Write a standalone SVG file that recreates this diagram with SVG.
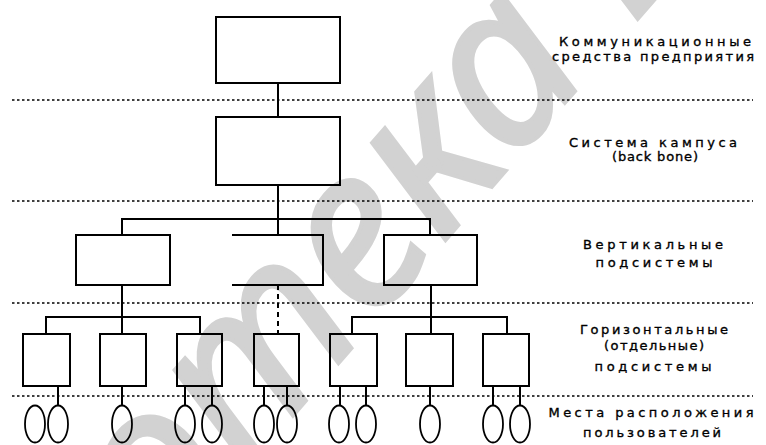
<svg xmlns="http://www.w3.org/2000/svg" width="766" height="445" viewBox="0 0 766 445">
<style>
.wm{font-family:"Noto Sans","DejaVu Sans",sans-serif;font-style:italic;font-weight:400;font-size:222px;fill:#d2d2d2;stroke:#d2d2d2;stroke-width:4}
.box{fill:none;stroke:#000;stroke-width:2}
.ln{fill:none;stroke:#000;stroke-width:2}
.dash{fill:none;stroke:#000;stroke-width:2;stroke-dasharray:5 4}
.sep{fill:none;stroke:#000;stroke-width:1.5;stroke-dasharray:2.5 2.5}
.ov{fill:none;stroke:#000;stroke-width:1.8}
.lbl{font-family:"DejaVu Sans","Liberation Sans",sans-serif;font-size:13px;fill:#000;stroke:#000;stroke-width:0.35;text-anchor:middle}
</style>
<rect width="766" height="445" fill="#fff"/>
<text class="wm" transform="translate(163,565) rotate(-49)">отека Б</text>

<g id="separators">
<line class="sep" x1="12" y1="100" x2="753" y2="100"/>
<line class="sep" x1="12" y1="201" x2="753" y2="201"/>
<line class="sep" x1="12" y1="303" x2="753" y2="303"/>
<line class="sep" x1="12" y1="396" x2="753" y2="396"/>
</g>

<g id="connectors">
<line class="ln" x1="278" y1="83" x2="278" y2="117"/>
<line class="ln" x1="278" y1="185" x2="278" y2="219"/>
<polyline class="ln" points="122,235 122,219 430,219 430,235"/>
<line class="ln" x1="278" y1="219" x2="278" y2="235"/>
<line class="ln" x1="122" y1="285" x2="122" y2="334"/>
<polyline class="ln" points="46,334 46,317 200,317 200,334"/>
<line class="dash" x1="278" y1="285" x2="278" y2="333"/>
<line class="ln" x1="431" y1="285" x2="431" y2="334"/>
<polyline class="ln" points="352,334 352,317 507,317 507,334"/>
<line class="ln" x1="58" y1="386" x2="58" y2="405"/>
<line class="ln" x1="122" y1="386" x2="122" y2="405"/>
<line class="ln" x1="185" y1="386" x2="185" y2="405"/>
<line class="ln" x1="212" y1="386" x2="212" y2="405"/>
<line class="ln" x1="264" y1="386" x2="264" y2="405"/>
<line class="ln" x1="287" y1="386" x2="287" y2="405"/>
<line class="ln" x1="340" y1="386" x2="340" y2="405"/>
<line class="ln" x1="366" y1="386" x2="366" y2="405"/>
<line class="ln" x1="430" y1="386" x2="430" y2="405"/>
<line class="ln" x1="493" y1="386" x2="493" y2="405"/>
<line class="ln" x1="520" y1="386" x2="520" y2="405"/>
</g>

<g id="enterprise"><rect class="box" x="216" y="17" width="124" height="66"/></g>
<g id="campus"><rect class="box" x="216" y="117" width="124" height="68"/></g>
<g id="vertical-1"><rect class="box" x="76" y="235" width="94" height="50"/></g>
<g id="vertical-2"><polyline class="box" points="232,235 323,235 323,285 232,285"/></g>
<g id="vertical-3"><rect class="box" x="384" y="235" width="93" height="50"/></g>

<g id="horizontal-1"><rect class="box" x="23" y="334" width="47" height="52"/></g>
<g id="horizontal-2"><rect class="box" x="100" y="334" width="46" height="52"/></g>
<g id="horizontal-3"><rect class="box" x="177" y="334" width="45" height="52"/></g>
<g id="horizontal-4"><rect class="box" x="254" y="334" width="45" height="52"/></g>
<g id="horizontal-5"><rect class="box" x="330" y="334" width="47" height="52"/></g>
<g id="horizontal-6"><rect class="box" x="406" y="334" width="47" height="52"/></g>
<g id="horizontal-7"><rect class="box" x="483" y="334" width="46" height="52"/></g>

<g id="users">
<ellipse class="ov" cx="35" cy="424" rx="10" ry="18.5"/>
<ellipse class="ov" cx="58" cy="424" rx="10" ry="18.5"/>
<ellipse class="ov" cx="122" cy="424" rx="10" ry="18.5"/>
<ellipse class="ov" cx="185" cy="424" rx="10" ry="18.5"/>
<ellipse class="ov" cx="212" cy="424" rx="10" ry="18.5"/>
<ellipse class="ov" cx="264" cy="424" rx="10" ry="18.5"/>
<ellipse class="ov" cx="287" cy="424" rx="10" ry="18.5"/>
<ellipse class="ov" cx="339" cy="424" rx="10" ry="18.5"/>
<ellipse class="ov" cx="366" cy="424" rx="10" ry="18.5"/>
<ellipse class="ov" cx="430" cy="424" rx="10" ry="18.5"/>
<ellipse class="ov" cx="493" cy="424" rx="10" ry="18.5"/>
<ellipse class="ov" cx="520" cy="424" rx="10" ry="18.5"/>
</g>

<g id="labels">
<text class="lbl" x="655" y="46" textLength="192" lengthAdjust="spacing">Коммуникационные</text>
<text class="lbl" x="653" y="61" textLength="202" lengthAdjust="spacing">средства предприятия</text>
<text class="lbl" x="653" y="147" textLength="168" lengthAdjust="spacing">Система кампуса</text>
<text class="lbl" x="655" y="161" textLength="86" lengthAdjust="spacing">(back bone)</text>
<text class="lbl" x="653" y="249" textLength="140" lengthAdjust="spacing">Вертикальные</text>
<text class="lbl" x="654" y="267" textLength="117" lengthAdjust="spacing">подсистемы</text>
<text class="lbl" x="654" y="334" textLength="148" lengthAdjust="spacing">Горизонтальные</text>
<text class="lbl" x="654" y="350" textLength="100" lengthAdjust="spacing">(отдельные)</text>
<text class="lbl" x="653" y="371" textLength="117" lengthAdjust="spacing">подсистемы</text>
<text class="lbl" x="651" y="417" textLength="205" lengthAdjust="spacing">Места расположения</text>
<text class="lbl" x="652" y="437" textLength="138" lengthAdjust="spacing">пользователей</text>
</g>
</svg>
